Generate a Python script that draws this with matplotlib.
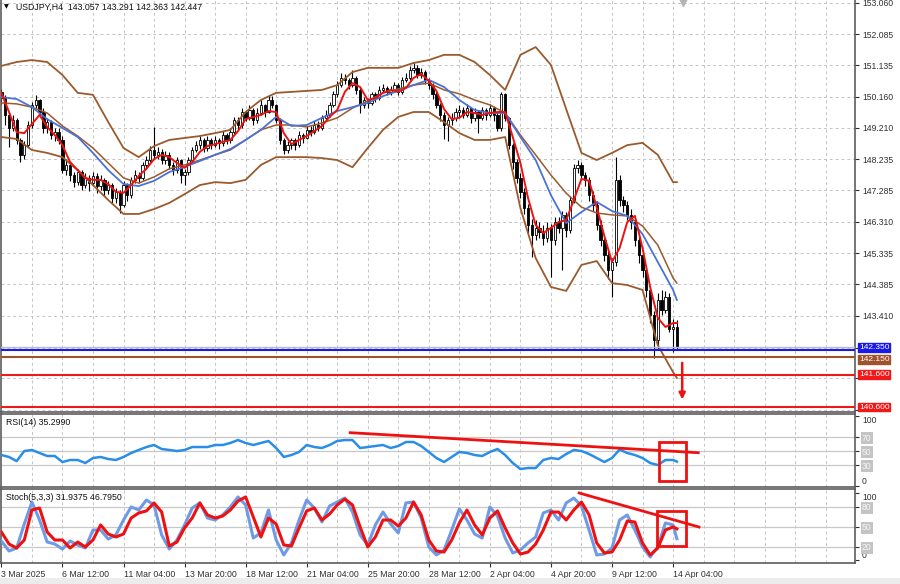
import numpy as np
import matplotlib
matplotlib.use('Agg')
import matplotlib.pyplot as plt
from matplotlib.patches import Rectangle
from matplotlib.transforms import blended_transform_factory

plt.rcParams['font.family'] = ['Liberation Sans', 'DejaVu Sans']

# USDJPY H4 bars, 3 Mar 2025 20:00 .. 14 Apr 2025 08:00 (open = previous close)
first_open = 150.30
closes = [
    150.12, 149.60, 149.20, 149.44, 148.83, 148.37, 148.67, 149.29, 149.91, 150.06,
    149.69, 149.20, 149.38, 148.98, 149.07, 148.83, 147.90, 148.06, 147.75, 147.53,
    147.84, 147.44, 147.66, 147.50, 147.72, 147.41, 147.60, 147.29, 147.44, 147.04,
    147.23, 146.83, 147.44, 147.13, 147.60, 147.75, 147.66, 148.06, 148.21, 148.52,
    148.37, 148.46, 148.21, 148.37, 148.06, 147.90, 148.21, 147.75, 147.84, 148.21,
    148.52, 148.67, 148.83, 148.58, 148.83, 148.67, 148.83, 148.74, 148.98, 148.83,
    149.07, 149.44, 149.29, 149.69, 149.51, 149.75, 149.44, 149.66, 149.91, 149.69,
    150.06, 149.91, 149.44, 148.83, 148.52, 148.67, 148.83, 148.67, 148.98, 148.89,
    149.14, 149.07, 149.29, 149.20, 149.51, 149.60, 149.91, 150.23, 150.52, 150.74,
    150.68, 150.52, 150.74, 150.37, 149.91, 150.06, 149.97, 150.23, 150.12, 150.37,
    150.43, 150.31, 150.37, 150.52, 150.31, 150.68, 150.74, 150.98, 151.05, 150.83,
    150.92, 150.68, 150.52, 150.23, 149.91, 149.60, 149.29, 149.44, 149.51, 149.69,
    149.75, 149.60, 149.81, 149.51, 149.69, 149.51, 149.75, 149.60, 149.81, 149.60,
    149.20, 150.23, 149.51, 148.67, 148.15, 147.66, 147.23, 146.73, 146.21, 145.90,
    146.12, 146.00, 145.81, 146.12, 145.75, 146.30, 146.12, 146.52, 146.06, 146.98,
    147.97, 148.06, 147.75, 147.60, 147.13, 146.83, 146.21, 145.75, 145.29, 144.82,
    145.07, 147.60, 146.98, 146.83, 146.52, 146.30, 145.75, 145.29, 144.82, 144.21,
    143.44, 142.67, 143.90, 143.59, 144.00, 143.00, 143.06, 142.45]
highs = [
    150.40, 150.20, 149.70, 149.60, 149.50, 148.90, 148.80, 149.40, 150.00, 150.22,
    150.10, 149.80, 149.50, 149.45, 149.20, 149.20, 148.95, 148.25, 148.15, 147.85,
    147.95, 147.90, 147.80, 147.75, 147.85, 147.80, 147.75, 147.65, 147.55, 147.50,
    147.35, 147.30, 147.55, 147.50, 147.70, 147.90, 147.85, 148.15, 148.35, 148.65,
    149.23, 148.60, 148.55, 148.50, 148.45, 148.15, 148.30, 148.25, 147.95, 148.30,
    148.62, 148.80, 148.95, 148.90, 148.95, 148.90, 148.95, 148.90, 149.10, 149.05,
    149.20, 149.55, 149.55, 149.80, 149.75, 149.90, 149.80, 149.80, 150.05, 149.95,
    150.20, 150.18, 149.95, 149.50, 148.90, 148.80, 148.90, 148.90, 149.10, 149.05,
    149.25, 149.25, 149.40, 149.40, 149.60, 149.75, 150.00, 150.35, 150.65, 150.90,
    150.85, 150.75, 150.98, 150.80, 150.45, 150.15, 150.12, 150.30, 150.30, 150.48,
    150.55, 150.50, 150.48, 150.62, 150.58, 150.78, 150.90, 151.10, 151.20, 151.15,
    151.05, 150.98, 150.75, 150.58, 150.30, 149.98, 149.70, 149.55, 149.65, 149.80,
    149.90, 149.85, 149.95, 149.85, 149.80, 149.75, 149.85, 149.80, 149.95, 149.88,
    149.70, 150.32, 150.28, 149.55, 148.75, 148.25, 147.80, 147.35, 146.85, 146.40,
    146.35, 146.30, 146.20, 146.30, 146.25, 146.45, 146.45, 146.65, 146.60, 147.10,
    148.10, 148.20, 148.15, 147.85, 147.70, 147.25, 146.95, 146.35, 145.85, 145.40,
    145.20, 148.30, 147.75, 147.10, 146.95, 146.70, 146.40, 145.85, 145.40, 144.95,
    144.30, 143.55, 144.10, 144.21, 144.18, 144.10, 143.30, 143.29]
lows = [
    149.95, 149.30, 148.62, 149.10, 148.70, 148.15, 148.25, 148.60, 149.20, 149.80,
    149.55, 149.05, 149.05, 148.85, 148.80, 148.70, 147.80, 147.75, 147.55, 147.38,
    147.45, 147.30, 147.35, 147.25, 147.40, 147.20, 147.30, 147.10, 147.15, 146.85,
    146.90, 146.58, 146.75, 146.95, 147.05, 147.50, 147.50, 147.60, 147.95, 148.15,
    148.25, 148.25, 148.10, 148.10, 147.95, 147.75, 147.80, 147.50, 147.44, 147.75,
    148.15, 148.45, 148.55, 148.45, 148.50, 148.55, 148.60, 148.55, 148.65, 148.70,
    148.75, 149.00, 149.15, 149.20, 149.40, 149.45, 149.30, 149.35, 149.60, 149.55,
    149.65, 149.80, 149.35, 148.70, 148.40, 148.42, 148.55, 148.52, 148.60, 148.75,
    148.85, 148.95, 149.00, 149.10, 149.15, 149.45, 149.55, 149.85, 150.15, 150.45,
    150.55, 150.40, 150.45, 150.25, 149.66, 149.80, 149.82, 149.90, 150.00, 150.05,
    150.30, 150.20, 150.22, 150.30, 150.22, 150.25, 150.60, 150.68, 150.90, 150.75,
    150.75, 150.55, 150.40, 150.10, 149.80, 149.40, 148.85, 148.80, 149.30, 149.40,
    149.55, 149.50, 149.55, 149.35, 149.40, 149.05, 149.45, 149.45, 149.55, 149.40,
    149.10, 149.10, 149.40, 148.55, 147.95, 147.50, 147.05, 146.55, 145.95, 145.22,
    145.75, 145.80, 145.60, 145.70, 144.61, 145.60, 145.95, 144.82, 145.85, 145.95,
    146.90, 147.80, 147.60, 147.40, 146.95, 146.65, 146.05, 145.55, 145.10, 144.55,
    144.00, 144.95, 146.80, 146.60, 146.35, 146.10, 145.55, 145.05, 144.60, 144.00,
    143.20, 142.12, 142.40, 143.45, 143.50, 142.90, 142.30, 142.36]

# red fast MA, read every 2 bars (last point = last bar)
ma_fast = [
    150.28, 149.69, 149.07, 149.04, 149.32, 149.60, 149.23, 148.98, 148.67, 148.15,
    147.90, 147.66, 147.60, 147.60, 147.47, 147.23, 147.20, 147.44, 147.72, 147.94,
    148.24, 148.37, 148.30, 148.12, 147.97, 148.15, 148.46, 148.64, 148.70, 148.77,
    148.83, 149.10, 149.47, 149.54, 149.60, 149.72, 149.69, 149.04, 148.70, 148.83,
    148.95, 149.10, 149.26, 149.54, 149.75, 150.31, 150.58, 150.46, 150.06, 150.12,
    150.28, 150.37, 150.31, 150.43, 150.74, 150.86, 150.65, 150.34, 149.78, 149.47,
    149.51, 149.69, 149.66, 149.60, 149.66, 149.69, 149.69, 148.92, 148.12, 147.04,
    146.21, 145.96, 146.12, 146.30, 146.36, 146.98, 147.63, 147.57, 146.76, 145.87,
    145.07, 145.50, 146.30, 146.49, 145.50, 144.30, 143.35, 143.07, 143.19, 143.19]
# blue slow MA and brown Bollinger bands, read every 4 bars
ma_slow = [
    150.15, 150.09, 149.84, 149.47, 149.20, 148.92, 148.43, 147.90, 147.47, 147.41,
    147.57, 147.84, 148.00, 148.18, 148.37, 148.55, 148.83, 149.14, 149.54, 149.26,
    149.29, 149.51, 149.72, 149.84, 149.97, 150.18, 150.34, 150.52, 150.68, 150.46,
    150.06, 149.75, 149.66, 149.66, 148.92, 148.21, 147.13, 146.27, 146.61, 146.92,
    146.64, 146.49, 145.93, 145.07, 144.21, 143.90]
bb_upper = [
    151.11, 151.23, 151.29, 151.23, 150.83, 150.28, 150.22, 149.38, 148.58, 148.30,
    148.64, 148.83, 148.89, 148.95, 149.04, 149.14, 149.69, 150.06, 150.28, 150.31,
    150.34, 150.37, 150.52, 150.92, 151.05, 151.05, 151.05, 151.20, 151.29, 151.45,
    151.45, 151.23, 150.83, 150.37, 151.45, 151.69, 151.14, 149.78, 148.43, 148.21,
    148.43, 148.67, 148.74, 148.37, 147.53, 147.53]
bb_middle = [
    149.97, 149.94, 149.84, 149.66, 149.26, 148.95, 148.58, 148.12, 147.66, 147.50,
    147.69, 147.94, 148.06, 148.21, 148.37, 148.52, 148.83, 149.14, 149.29, 149.29,
    149.23, 149.35, 149.51, 149.81, 150.03, 150.28, 150.40, 150.52, 150.58, 150.37,
    150.25, 150.06, 149.91, 149.66, 148.98, 148.37, 147.75, 147.19, 146.76, 146.58,
    146.52, 146.49, 146.18, 145.59, 144.58, 144.42]
bb_lower = [
    148.92, 148.86, 148.52, 148.43, 148.30, 147.90, 147.44, 146.98, 146.55, 146.55,
    146.70, 146.89, 147.16, 147.44, 147.53, 147.50, 147.60, 148.06, 148.30, 148.30,
    148.30, 148.27, 148.21, 147.99, 148.58, 149.14, 149.54, 149.69, 149.69, 149.38,
    149.04, 148.83, 148.83, 148.92, 146.73, 145.19, 144.30, 144.18, 144.98, 145.10,
    144.42, 144.36, 144.21, 142.51, 141.68, 141.50]

# oscillators, read every 2 bars
rsi = [
    44.7, 41.9, 36.0, 50.4, 51.9, 47.6, 43.3, 43.3, 34.7, 37.6,
    37.6, 33.3, 40.4, 41.9, 39.0, 37.6, 41.9, 47.6, 51.9, 56.1,
    59.0, 53.3, 51.9, 50.4, 51.9, 56.1, 56.1, 56.1, 59.0, 59.0,
    61.9, 66.1, 61.9, 59.0, 61.9, 64.7, 54.7, 41.9, 44.7, 49.0,
    59.0, 56.1, 54.7, 59.0, 64.7, 66.1, 66.1, 54.7, 56.1, 57.6,
    59.0, 54.7, 57.6, 63.3, 63.3, 57.6, 49.0, 40.4, 34.7, 41.9,
    49.0, 47.6, 44.7, 43.3, 49.0, 53.3, 44.7, 33.3, 24.7, 26.1,
    26.1, 37.6, 40.4, 39.0, 46.1, 51.9, 50.4, 46.1, 40.4, 34.7,
    40.4, 52.5, 47.6, 44.7, 40.4, 33.3, 30.4, 37.6, 37.6, 35.3]
stoch_main = [
    28.5, 13.5, 18.0, 54.0, 87.0, 60.0, 27.0, 24.0, 16.5, 28.5,
    22.6, 18.0, 45.0, 45.0, 31.5, 37.6, 60.0, 79.6, 75.0, 90.0,
    82.6, 37.6, 16.5, 30.0, 52.6, 78.0, 85.6, 63.0, 60.0, 67.6,
    79.6, 94.6, 82.6, 33.0, 40.6, 75.0, 30.0, 7.6, 25.6, 60.0,
    90.0, 78.0, 57.0, 81.0, 87.0, 93.0, 72.0, 37.6, 22.6, 52.6,
    72.0, 54.0, 40.6, 85.6, 87.0, 63.0, 19.6, 7.6, 15.0, 45.0,
    76.5, 60.0, 39.0, 33.0, 79.6, 66.0, 33.0, 10.6, 15.0, 25.6,
    34.6, 70.6, 75.0, 60.0, 85.6, 93.0, 81.0, 45.0, 7.6, 9.0,
    18.0, 60.0, 67.6, 45.0, 19.6, 4.6, 19.6, 55.6, 52.6, 31.9]
stoch_signal = [
    42.0, 24.0, 18.0, 30.0, 75.0, 78.0, 42.0, 30.0, 30.0, 18.0,
    27.0, 19.6, 30.0, 52.6, 39.0, 34.6, 39.0, 63.0, 70.6, 73.6,
    85.6, 72.0, 21.0, 27.0, 48.0, 63.0, 85.6, 67.6, 63.0, 66.0,
    75.0, 88.5, 94.6, 64.6, 34.6, 63.0, 54.0, 22.6, 21.0, 48.0,
    73.6, 78.0, 60.0, 69.0, 82.6, 91.5, 82.6, 49.6, 19.6, 34.6,
    60.0, 60.0, 51.0, 63.0, 87.0, 67.6, 30.0, 13.5, 12.0, 30.0,
    55.6, 75.0, 52.6, 37.6, 63.0, 73.6, 48.0, 25.6, 9.0, 12.0,
    24.0, 45.0, 72.0, 72.0, 60.0, 75.0, 87.0, 67.6, 25.6, 10.6,
    12.0, 30.0, 58.5, 57.0, 25.6, 7.6, 18.0, 45.0, 49.6, 46.8]

price_grid = [153.060, 152.085, 151.135, 150.160, 149.210, 148.235, 147.285,
              146.310, 145.335, 144.385, 143.410, 142.435, 141.485, 140.510]
hidden_grid_labels = [142.435, 141.485, 140.510]
time_labels = ['3 Mar 2025', '6 Mar 12:00', '11 Mar 04:00', '13 Mar 20:00',
               '18 Mar 12:00', '21 Mar 04:00', '25 Mar 20:00', '28 Mar 12:00',
               '2 Apr 04:00', '4 Apr 20:00', '9 Apr 12:00', '14 Apr 04:00']

levels = [142.350, 142.150, 141.600, 140.600]
level_colors = ['#1a1ae6', '#a0522d', '#f01818', '#f01818']
# vertical nudge (pixels) of the price tags so neighbouring tags do not cover each other
level_tag_nudge = [3, -3, 0, 0]

# analyst drawings (bar index, value)
rsi_trend = [(91.4, 76.6), (182.6, 48.0)]
rsi_box = (172.3, 7.6, 179.4, 63.3)
stoch_trend = [(151.4, 100.5), (182.8, 49.5)]
stoch_box = (171.8, 21.0, 179.4, 74.0)
arrow_bar, arrow_from, arrow_to = 178.4, 142.05, 140.75

n = len(closes)
opens = [first_open] + closes[:-1]
bars = np.arange(n)
x2 = list(range(0, n - 1, 2)) + [n - 1]
x4 = list(range(0, n - 1, 4)) + [n - 1]

W, H = 900, 584
fig = plt.figure(figsize=(9, 5.84), dpi=100)
fig.patch.set_facecolor('white')
# light strip under the time scale
fig.patches.append(Rectangle((0, 0), 1, 6 / H, transform=fig.transFigure,
                             facecolor='#ececec', edgecolor='none', zorder=0))


def box(top, bottom):
    return [1 / W, 1 - bottom / H, 854 / W, (bottom - top) / H]


ax = fig.add_axes(box(0, 412))
ax_rsi = fig.add_axes(box(414, 487))
ax_sto = fig.add_axes(box(489, 562.7))

xmax = (855 - 1) / 3.818
grid_kw = dict(color='#c4c4c4', lw=0.7, ls=(0, (3, 3)), zorder=0)
red = '#ee1111'

for a in (ax, ax_rsi, ax_sto):
    a.set_xlim(-0.1, xmax)
    for xv in range(8, int(xmax) + 1, 8):
        a.axvline(xv, **grid_kw)
    for s in a.spines.values():
        s.set_color('#505050')
        s.set_linewidth(1.1)
    a.yaxis.tick_right()
    a.tick_params(axis='y', labelsize=6.2, length=3, pad=2, colors='#303030')
    a.tick_params(axis='x', length=0, labelbottom=False)
ax.spines['top'].set_visible(False)

# ---- main price panel ----
ax.set_ylim(140.45, 153.14)
for p in price_grid:
    ax.axhline(p, **grid_kw)
ax.set_yticks(price_grid)
ax.set_yticklabels(['' if p in hidden_grid_labels else f'{p:.3f}' for p in price_grid])

ax.vlines(bars, lows, highs, color='black', lw=0.8, zorder=2)
for i in range(n):
    o, c = opens[i], closes[i]
    bull = c >= o
    ax.add_patch(Rectangle((i - 0.3, min(o, c)), 0.6, max(abs(c - o), 0.01),
                           facecolor='white' if bull else 'black',
                           edgecolor='black', lw=0.6, zorder=2))

brown = '#9b5a2c'
ax.plot(x4, bb_upper, color=brown, lw=1.3, zorder=3)
ax.plot(x4, bb_middle, color=brown, lw=1.1, zorder=3)
ax.plot(x4, bb_lower, color=brown, lw=1.3, zorder=3)
ax.plot(x4, ma_slow, color='#4a72d8', lw=1.3, zorder=3)
ax.plot(x2, ma_fast, color=red, lw=1.4, zorder=4)

ax.axhline(closes[-1], color='#b8bcd0', lw=1.0, zorder=3)
tr = blended_transform_factory(ax.transAxes, ax.transData)
for lv, col, dy in zip(levels, level_colors, level_tag_nudge):
    ax.axhline(lv, color=col, lw=1.5, zorder=3)
    ax.annotate(f'{lv:.3f}', xy=(1.0, lv), xycoords=tr,
                xytext=(4, dy), textcoords='offset pixels',
                fontsize=6.0, color='white', va='center', ha='left',
                annotation_clip=False,
                bbox=dict(facecolor=col, edgecolor=col, pad=0.6))

ax.annotate('', xy=(arrow_bar, arrow_to), xytext=(arrow_bar, arrow_from),
            arrowprops=dict(arrowstyle='-|>', color=red, lw=1.8, mutation_scale=9),
            zorder=5)
ax.plot([178.6], [153.08], marker='v', color='#b4b4b4', ms=6, clip_on=False)

fig.text(4 / W, 1 - 7 / H, '\u25bc', fontsize=4.5, va='center', family='DejaVu Sans')
fig.text(16 / W, 1 - 7 / H, 'USDJPY,H4  143.057 143.291 142.363 142.447',
         fontsize=6.3, va='center', color='#101010')

# ---- RSI panel ----
ax_rsi.set_ylim(-1.0, 103.3)
for lv in (30, 50, 70):
    ax_rsi.axhline(lv, color='#c8c8c8', lw=0.9, zorder=0)
ax_rsi.plot(x2, rsi, color='#2a8ee8', lw=1.8, zorder=3)
ax_rsi.plot(*zip(*rsi_trend), color=red, lw=2, zorder=4)
x0, y0, x1, y1 = rsi_box
ax_rsi.add_patch(Rectangle((x0, y0), x1 - x0, y1 - y0, fill=False, ec=red, lw=2, zorder=4))
ax_rsi.set_yticks([0, 30, 50, 70, 100])
ax_rsi.set_yticklabels(['0', '30', '50', '70', '100'])
ax_rsi.text(0.006, 0.88, 'RSI(14) 35.2990', transform=ax_rsi.transAxes,
            fontsize=6.3, va='center', color='#101010')

# ---- Stochastic panel ----
ax_sto.set_ylim(-4.0, 106.5)
for lv in (20, 50, 80):
    ax_sto.axhline(lv, color='#c8c8c8', lw=0.9, zorder=0)
ax_sto.plot(x2, stoch_main, color='#6f9be6', lw=2.2, zorder=3)
ax_sto.plot(x2, stoch_signal, color=red, lw=2.2, zorder=4)
ax_sto.plot(*zip(*stoch_trend), color=red, lw=2, zorder=5)
x0, y0, x1, y1 = stoch_box
ax_sto.add_patch(Rectangle((x0, y0), x1 - x0, y1 - y0, fill=False, ec=red, lw=2, zorder=5))
ax_sto.set_yticks([0, 20, 50, 80, 100])
ax_sto.set_yticklabels(['0', '20', '50', '80', '100'])
ax_sto.text(0.006, 0.89, 'Stoch(5,3,3) 31.9375 46.7950', transform=ax_sto.transAxes,
            fontsize=6.3, va='center', color='#101010')

for a, mids in ((ax_rsi, ('30', '50', '70')), (ax_sto, ('20', '50', '80'))):
    for lab in a.get_yticklabels():
        t = lab.get_text()
        if t in mids:
            lab.set_color('#f6f6f6')
            lab.set_bbox(dict(facecolor='#c4c4c4', edgecolor='none', pad=1.0))
        elif t == '100':
            lab.set_va('top')
        elif t == '0':
            lab.set_va('bottom')

ax_sto.set_xticks(list(range(0, 16 * len(time_labels), 16)))
ax_sto.set_xticklabels(time_labels, ha='left')
ax_sto.tick_params(axis='x', length=3, pad=2, labelsize=6.3, labelbottom=True,
                   colors='#303030')

fig.savefig('out.png', dpi=100, facecolor='white')
